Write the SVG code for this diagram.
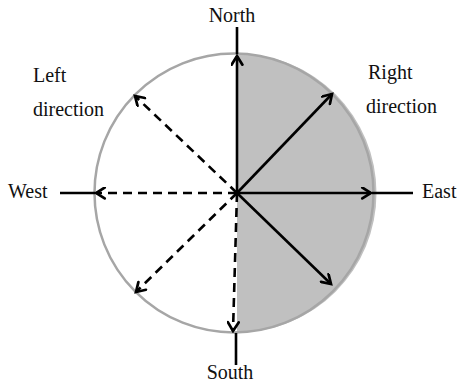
<svg xmlns="http://www.w3.org/2000/svg" width="458" height="385" viewBox="0 0 458 385">
<defs>
<style>
.lbl{font-family:"Liberation Serif","DejaVu Serif",serif;font-size:20px;fill:#111}
.ln{stroke:#000;stroke-width:2.6;fill:none}
.sol{stroke:#000;stroke-width:2.6;fill:none;marker-end:url(#ah)}
.dsh{stroke:#000;stroke-width:2.6;fill:none;stroke-dasharray:9 6;marker-end:url(#ah)}
</style>
<marker id="ah" viewBox="0 0 12 12" refX="10" refY="6" markerWidth="13" markerHeight="13" markerUnits="userSpaceOnUse" orient="auto">
<path d="M2,1 L10,6 L2,11" fill="none" stroke="#000" stroke-width="2.5" stroke-linecap="round"/>
</marker>
</defs>
<g id="disc">
<circle cx="234" cy="193" r="139.5" fill="#fff" stroke="none"/>
<path d="M237,53.5 A139.5,139.5 0 0 1 237,332.5 Z" fill="#c0c0c0"/>
<circle cx="234" cy="193" r="139.5" fill="none" stroke="#a6a6a6" stroke-width="2.5"/>
</g>
<g id="connectors">
<line class="ln" x1="237" y1="27" x2="237" y2="54"/>
<line class="ln" x1="60" y1="193" x2="95" y2="193"/>
<line class="ln" x1="372" y1="193" x2="413" y2="193"/>
<line class="ln" x1="236" y1="333" x2="236" y2="365"/>
<line class="sol" x1="237" y1="193" x2="237" y2="56"/>
<line class="sol" x1="237" y1="193" x2="332" y2="94"/>
<line class="sol" x1="237" y1="193" x2="371" y2="193"/>
<line class="sol" x1="237" y1="193" x2="331" y2="284"/>
<line class="dsh" x1="237" y1="193" x2="233" y2="331"/>
<line class="dsh" x1="237" y1="193" x2="136" y2="292"/>
<line class="dsh" x1="237" y1="193" x2="96" y2="193"/>
<line class="dsh" x1="237" y1="193" x2="135" y2="96"/>
</g>
<g id="north"><text class="lbl" x="232" y="22" text-anchor="middle">North</text></g>
<g id="south"><text class="lbl" x="230" y="379" text-anchor="middle">South</text></g>
<g id="west"><text class="lbl" x="8" y="198">West</text></g>
<g id="east"><text class="lbl" x="422" y="198">East</text></g>
<g id="left"><text class="lbl" x="33" y="82">Left</text><text class="lbl" x="33" y="116">direction</text></g>
<g id="right"><text class="lbl" x="368" y="79">Right</text><text class="lbl" x="366" y="113">direction</text></g>
</svg>
